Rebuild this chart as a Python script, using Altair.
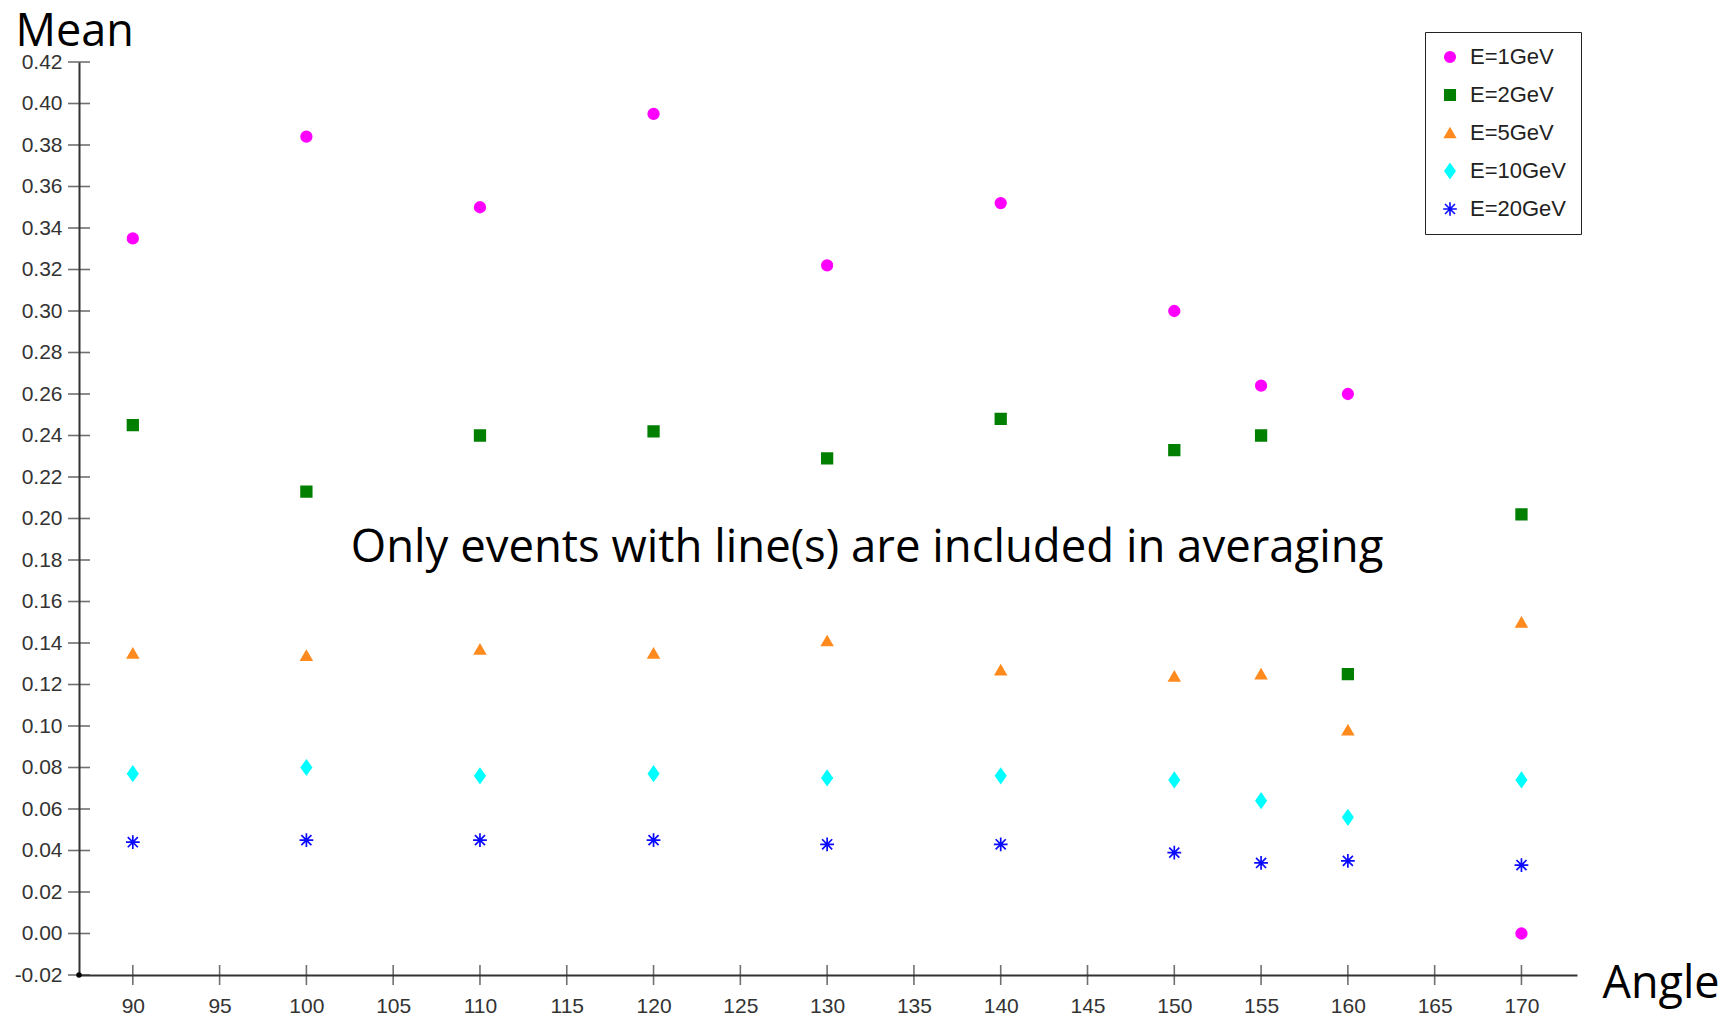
import altair as alt
import pandas as pd

angles = [90, 100, 110, 120, 130, 140, 150, 155, 160, 170]
series_names = ["E=1GeV", "E=2GeV", "E=5GeV", "E=10GeV", "E=20GeV"]
e1 = [0.335, 0.384, 0.350, 0.395, 0.322, 0.352, 0.300, 0.264, 0.260, 0.000]
e2 = [0.245, 0.213, 0.240, 0.242, 0.229, 0.248, 0.233, 0.240, 0.125, 0.202]
e5 = [0.135, 0.134, 0.137, 0.135, 0.141, 0.127, 0.124, 0.125, 0.098, 0.150]
e10 = [0.077, 0.080, 0.076, 0.077, 0.075, 0.076, 0.074, 0.064, 0.056, 0.074]
e20 = [0.044, 0.045, 0.045, 0.045, 0.043, 0.043, 0.039, 0.034, 0.035, 0.033]

colors = ["#FF00FF", "#007F00", "#FF8A1E", "#00FFFF", "#0A0AFF"]
shapes = [
    "circle",
    "square",
    "triangle-up",
    "M0,-1.35L0.95,0L0,1.35L-0.95,0Z",
    "M0,-1.3L0,1.3M-1.3,0L1.3,0M-0.95,-0.95L0.95,0.95M-0.95,0.95L0.95,-0.95",
]

x_ticks = list(range(90, 171, 5))
y_ticks = [round(-0.02 + 0.02 * i, 2) for i in range(23)]
x_min, x_max = 86.9, 173.2
y_min, y_max = -0.02, 0.42

annot_text = ["Only events with line(s) are included in averaging"]
annot_x = [132.3]
annot_y = [0.186]

rows = []
for name, vals in zip(series_names, [e1, e2, e5, e10, e20]):
    for a, v in zip(angles, vals):
        rows.append({"angle": a, "mean": v, "series": name})
df = pd.DataFrame(rows)

x_scale = alt.Scale(domain=[x_min, x_max], nice=False, zero=False)
y_scale = alt.Scale(domain=[y_min, y_max], nice=False, zero=False)

x_axis = alt.Axis(
    values=x_ticks, title="Angle", titleX=1523, titleY=22, titleAngle=0,
    titleAlign="left", titleBaseline="alphabetic", titleFont="Open Sans",
    titleFontSize=45, titleFontWeight="normal", titleColor="black",
    labelFont="Liberation Sans", labelFontSize=21, labelColor="#333",
    labelPadding=20, ticks=False, domainColor="#333", domainWidth=2,
    grid=False, labelFlush=False, labelOverlap=False,
)
y_axis = alt.Axis(
    values=y_ticks, title="Mean", titleX=-64, titleY=-17, titleAngle=0,
    titleAlign="left", titleBaseline="alphabetic", titleFont="Open Sans",
    titleFontSize=45, titleFontWeight="normal", titleColor="black",
    labelFont="Liberation Sans", labelFontSize=21, labelColor="#333",
    labelPadding=17, ticks=False, domainColor="#333", domainWidth=2,
    grid=False, labelFlush=False, labelOverlap=False,
    labelExpr="(datum.value < -0.0001 ? '-' : '') + format(abs(datum.value), '.2f')",
)

legend = alt.Legend(
    title=None, orient="none", legendX=1346, legendY=-30,
    strokeColor="#222", fillColor="white", padding=14,
    labelFont="Liberation Sans", labelFontSize=22, labelColor="#222",
    symbolSize=110, symbolStrokeWidth=1.6, labelOffset=9, rowPadding=16,
)

points = alt.Chart(df).mark_point(filled=True, size=112, strokeWidth=1.7, opacity=1).encode(
    x=alt.X("angle:Q", scale=x_scale, axis=x_axis),
    y=alt.Y("mean:Q", scale=y_scale, axis=y_axis),
    fill=alt.Fill("series:N", scale=alt.Scale(domain=series_names, range=colors), legend=legend),
    stroke=alt.Stroke("series:N", scale=alt.Scale(domain=series_names, range=colors), legend=legend),
    shape=alt.Shape("series:N", scale=alt.Scale(domain=series_names, range=shapes), legend=legend),
)

ytick_layer = alt.Chart(pd.DataFrame({"v": y_ticks})).mark_tick(
    orient="horizontal", size=22, thickness=1.6, color="#333"
).encode(
    x=alt.XDatum(x_min, type="quantitative", scale=x_scale, axis=x_axis),
    y=alt.Y("v:Q", scale=y_scale, axis=y_axis),
)

xtick_layer = alt.Chart(pd.DataFrame({"v": x_ticks})).mark_tick(
    orient="vertical", size=20, thickness=1.6, color="#333"
).encode(
    x=alt.X("v:Q", scale=x_scale, axis=x_axis),
    y=alt.YDatum(y_min, type="quantitative", scale=y_scale, axis=y_axis),
)

origin = alt.Chart(pd.DataFrame({"a": [x_min], "b": [y_min]})).mark_point(
    filled=True, size=30, color="black", opacity=1
).encode(
    x=alt.X("a:Q", scale=x_scale, axis=x_axis),
    y=alt.Y("b:Q", scale=y_scale, axis=y_axis),
)

annot = alt.Chart(pd.DataFrame({"t": annot_text, "ax": annot_x, "ay": annot_y})).mark_text(
    font="Open Sans", fontSize=45.5, color="black", align="center", baseline="middle"
).encode(
    x=alt.X("ax:Q", scale=x_scale, axis=x_axis),
    y=alt.Y("ay:Q", scale=y_scale, axis=y_axis),
    text="t:N",
)

chart = alt.layer(ytick_layer, xtick_layer, origin, annot, points).properties(
    width=1498, height=913,
    padding={"left": 79, "top": 62, "right": 149, "bottom": 45},
    autosize=alt.AutoSizeParams(type="none"),
    background="white",
).configure_view(stroke=None)

chart.save("out.html", embed_options={"renderer": "svg", "actions": False})
